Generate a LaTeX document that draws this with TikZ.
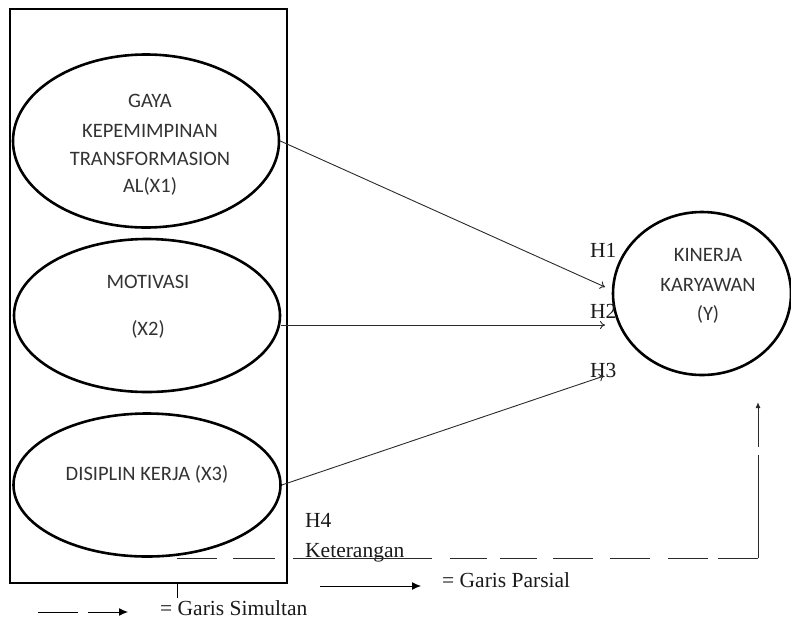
\documentclass[tikz,border=0pt]{standalone}
\usepackage{fontspec}
\setmainfont{Liberation Serif}
\newfontfamily\calib{Carlito}
\usetikzlibrary{shapes.geometric,arrows.meta}
\definecolor{txtgray}{HTML}{333333}
\definecolor{linegray}{HTML}{2A2A2A}
\tikzset{
  var/.style={ellipse,draw=black,line width=2.6pt,inner sep=0pt},
  vtxt/.style={font=\calib\fontsize{20.5}{24}\selectfont,text=txtgray,anchor=base,inner sep=0pt},
  stxt/.style={font=\fontsize{21.5}{25}\selectfont,text=black!90,anchor=base west,inner sep=0pt},
  partial/.style={draw=linegray,line width=0.9pt,-{To[length=5pt,width=8pt]}},
  simline/.style={draw=linegray,line width=1pt},
  legarrow/.style={draw=black,line width=1pt,-{Latex[length=9pt,width=8pt]}}
}
\begin{document}
\begin{tikzpicture}[x=1pt,y=-1pt]
\useasboundingbox (0,0) rectangle (791,619);
% frame
\node[draw=black,line width=1.1pt,minimum width=277pt,minimum height=574pt,inner sep=0pt] (frame) at (148.5,296) {};
% variables
\node[var,minimum width=266pt,minimum height=173pt] (x1) at (146,141) {};
\node[var,minimum width=266pt,minimum height=153pt] (x2) at (147,315.5) {};
\node[var,minimum width=267pt,minimum height=143pt] (x3) at (147,485) {};
\node[var,minimum width=178pt,minimum height=163pt] (y) at (702,293.5) {};
% texts in ellipses
\node[vtxt] (t1a) at (150,107) {GAYA};
\node[vtxt] (t1b) at (150,137) {KEPEMIMPINAN};
\node[vtxt] (t1c) at (150,165) {TRANSFORMASION};
\node[vtxt] (t1d) at (150,192) {AL(X1)};
\node[vtxt] (t2a) at (148,288) {MOTIVASI};
\node[vtxt] (t2b) at (148,335) {(X2)};
\node[vtxt] (t3a) at (147,480) {DISIPLIN KERJA (X3)};
\node[vtxt] (tya) at (708,261) {KINERJA};
\node[vtxt] (tyb) at (708,291) {KARYAWAN};
\node[vtxt] (tyc) at (708,320) {(Y)};
% hypothesis labels
\node[stxt] (h1) at (590,257) {H1};
\node[stxt] (h2) at (590,318) {H2};
\node[stxt] (h3) at (590,377) {H3};
\node[stxt] (h4) at (305,527) {H4};
\node[stxt] (ket) at (305,557) {Keterangan};
% partial arrows
\coordinate (e1) at (605,287);
\coordinate (e2) at (605,325);
\coordinate (e3) at (604,376);
\draw[partial] (x1.east) -- (e1);
\draw[partial] (x2.east |- e2) -- (e2);
\draw[partial] (x3.east) -- (e3);
% simultaneous dashed path
\foreach \a/\b in {177/217,233/275,293/432,450/487,500/537,553/593,610/650,668/708,718/758}{
  \draw[simline] (\a,558) -- (\b,558);
}
\coordinate (s0) at (758,558);
\coordinate (s1) at (758,455);
\coordinate (s2) at (758,447);
\coordinate (s3) at (758,402);
\draw[simline] (s0) -- (s1);
\draw[simline,-{Latex[length=6pt,width=5pt]}] (s2) -- (s3);
% tick below frame
\coordinate (k0) at (177,583);
\coordinate (k1) at (177,598);
\draw[line width=1pt] (k0) -- (k1);
% legend
\coordinate (lp0) at (320,586);
\coordinate (lp1) at (421,586);
\draw[legarrow] (lp0) -- (lp1);
\node[stxt] (lpt) at (442,587) {= Garis Parsial};
\coordinate (ls0) at (38,612);
\coordinate (ls1) at (78,612);
\coordinate (ls2) at (88,612);
\coordinate (ls3) at (128,612);
\draw[line width=1pt] (ls0) -- (ls1);
\draw[legarrow] (ls2) -- (ls3);
\node[stxt] (lst) at (160,615.5) {= Garis Simultan};
\end{tikzpicture}
\end{document}
